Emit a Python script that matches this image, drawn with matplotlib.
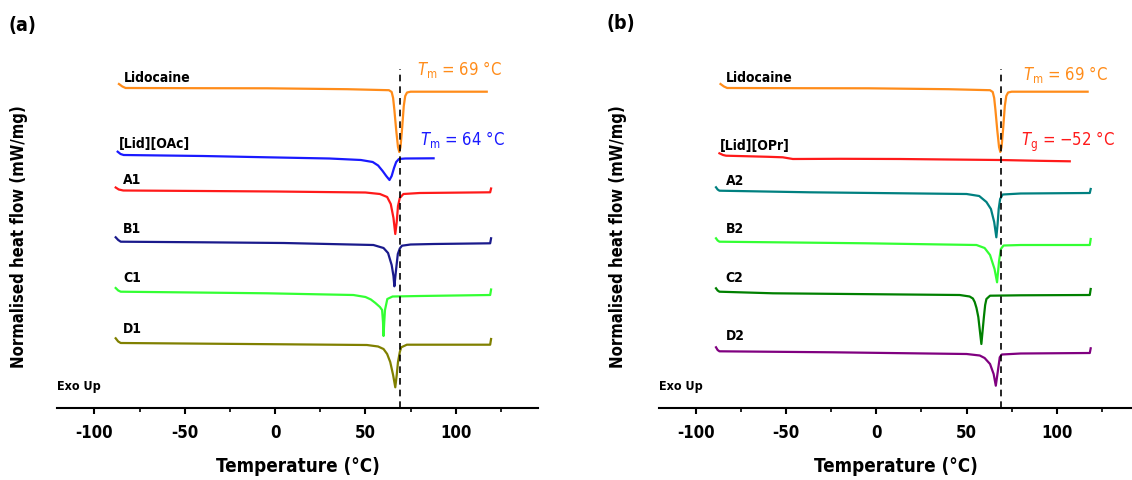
import matplotlib
matplotlib.use('Agg')
import matplotlib.pyplot as plt

# 글꼴 설정 (좁은 굵은 글꼴이 있으면 사용)
plt.rcParams['font.family'] = ['DejaVu Sans Condensed', 'Liberation Sans Narrow', 'DejaVu Sans']
plt.rcParams['font.stretch'] = 'condensed'
plt.rcParams['font.weight'] = 'bold'
plt.rcParams['axes.labelweight'] = 'bold'
plt.rcParams['axes.unicode_minus'] = False
plt.rcParams['mathtext.fontset'] = 'custom'
plt.rcParams['mathtext.rm'] = 'DejaVu Sans:style=normal:weight=normal:stretch=condensed'
plt.rcParams['mathtext.it'] = 'DejaVu Sans:style=italic:weight=normal:stretch=condensed'

# DSC 곡선 (온도 °C, 정규화 열류 + 세로 오프셋)
lido_T = [-86.4, -84.5, -82.7, -40, -4.4, 40, 63, 64.5, 65.3, 66, 67, 68, 68.7, 69.4, 70.3, 71.2, 72, 73, 75, 117.1]
lido_hf = [32.4, 32.15, 32.0, 31.98, 31.97, 31.88, 31.78, 31.6, 31.0, 29.8, 27.8, 26.1, 25.6, 26.1, 28.0, 30.2, 31.2, 31.55, 31.63, 31.63]

oac_T = [-87.1, -85.5, -83.8, -40, -4.4, 30, 47.5, 54, 57, 59.5, 61.5, 63.3, 64.5, 65.8, 67, 68.5, 72, 87.7]
oac_hf = [25.63, 25.4, 25.3, 25.2, 25.07, 24.95, 24.8, 24.6, 24.25, 23.7, 23.2, 22.8, 23.2, 24.0, 24.6, 24.9, 24.95, 24.97]

a1_T = [-88.2, -86.5, -84, -40, 0, 50, 58, 62, 64, 65.5, 66.5, 67.3, 68, 69, 71, 80, 119, 119.5]
a1_hf = [22.05, 21.85, 21.75, 21.7, 21.65, 21.55, 21.4, 21.1, 20.4, 19.0, 17.4, 18.6, 20.2, 21.0, 21.4, 21.5, 21.57, 21.95]

b1_T = [-88.2, -86.8, -85.4, -40, 4.8, 54.4, 60, 62.5, 64.5, 65.5, 66, 66.8, 67.9, 69, 70.2, 75, 87.7, 119, 119.5]
b1_hf = [17.07, 16.8, 16.63, 16.57, 16.5, 16.3, 16.0, 15.5, 14.3, 13.2, 12.17, 13.6, 15.4, 15.95, 16.23, 16.35, 16.4, 16.47, 16.97]

c1_T = [-88.2, -86.8, -85.4, -4.4, 43.3, 50, 53, 55.5, 58, 59.2, 59.7, 60, 60.4, 60.8, 62.1, 65, 80, 119, 119.5]
c1_hf = [12.0, 11.75, 11.63, 11.47, 11.3, 11.1, 10.85, 10.5, 10.1, 9.8, 8.6, 7.2, 8.6, 9.8, 10.9, 11.15, 11.2, 11.3, 11.85]

d1_T = [-88.2, -86.8, -85.4, 4.8, 50.8, 57, 60, 62, 63.7, 65.3, 66.5, 67.3, 68, 69, 69.8, 72.9, 119, 119.5]
d1_hf = [6.97, 6.65, 6.5, 6.37, 6.3, 6.15, 5.9, 5.4, 4.6, 3.3, 2.07, 3.3, 4.6, 5.6, 6.07, 6.33, 6.33, 6.9]

opr_T = [-87, -85, -83.3, -60, -51.9, -46.3, -20, 12.9, 40, 68.4, 90, 107.2]
opr_hf = [25.47, 25.3, 25.23, 25.12, 25.07, 24.9, 24.92, 24.9, 24.85, 24.8, 24.72, 24.67]

a2_T = [-88.9, -88, -87, -37, 50, 57, 61, 63.5, 65.3, 66.5, 67.2, 67.8, 68.6, 70, 80, 118.3, 118.8]
a2_hf = [22.07, 21.85, 21.73, 21.57, 21.4, 21.2, 20.6, 19.9, 18.6, 17.07, 18.4, 19.9, 20.9, 21.35, 21.45, 21.5, 21.9]

b2_T = [-88.9, -88, -87, -5.5, 55.5, 60, 63, 65.5, 66.9, 68, 69, 70.5, 80, 118.3, 118.8]
b2_hf = [16.97, 16.75, 16.63, 16.47, 16.3, 16.0, 15.3, 13.9, 12.57, 14.7, 15.9, 16.25, 16.3, 16.3, 16.9]

c2_T = [-88.9, -88, -87, -57.3, 46.2, 51.7, 53.5, 54.5, 55.5, 56.5, 58.2, 59.6, 60.3, 61, 63, 80, 118.3, 118.8]
c2_hf = [11.97, 11.75, 11.63, 11.47, 11.3, 11.15, 10.95, 10.6, 10.0, 9.1, 6.4, 9.1, 10.3, 10.9, 11.23, 11.27, 11.3, 11.9]

d2_T = [-88.9, -88, -87, -24, 50, 57.3, 60, 63, 65, 66.2, 67.5, 68.4, 69.5, 80, 118.3, 118.8]
d2_hf = [6.07, 5.8, 5.67, 5.57, 5.4, 5.25, 5.0, 4.4, 3.4, 2.23, 3.9, 5.07, 5.35, 5.45, 5.5, 5.97]

tm_lido = 69

fig = plt.figure(figsize=(11.32, 4.81), dpi=100)
ax1 = fig.add_axes([57.3 / 1132, 72 / 481, 480.4 / 1132, 344 / 481])
ax2 = fig.add_axes([659 / 1132, 72 / 481, 473 / 1132, 344 / 481])

# 패널 (a)
ax1.plot(lido_T, lido_hf, color='#ff8c1a', lw=1.6)
ax1.plot(oac_T, oac_hf, color='#1a1aff', lw=1.6)
ax1.plot(a1_T, a1_hf, color='#ff1a1a', lw=1.6)
ax1.plot(b1_T, b1_hf, color='#1a1a8c', lw=1.6)
ax1.plot(c1_T, c1_hf, color='#33ff33', lw=1.6)
ax1.plot(d1_T, d1_hf, color='#808000', lw=1.6)

ax1.text(-83.6, 33.1, 'Lidocaine', fontsize=10, ha='left', va='center')
ax1.text(-86.4, 26.5, '[Lid][OAc]', fontsize=10, ha='left', va='center')
ax1.text(-84, 22.9, 'A1', fontsize=10, ha='left', va='center')
ax1.text(-84, 18.0, 'B1', fontsize=10, ha='left', va='center')
ax1.text(-84, 13.1, 'C1', fontsize=10, ha='left', va='center')
ax1.text(-84, 8.0, 'D1', fontsize=10, ha='left', va='center')
ax1.text(78.5, 33.9, r'$T_\mathrm{m}$ = 69 °C', color='#ff8c1a', fontsize=12,
         fontweight='normal', ha='left', va='center')
ax1.text(80.3, 26.9, r'$T_\mathrm{m}$ = 64 °C', color='#1a1aff', fontsize=12,
         fontweight='normal', ha='left', va='center')

# 패널 (b)
ax2.plot(lido_T, lido_hf, color='#ff8c1a', lw=1.6)
ax2.plot(opr_T, opr_hf, color='#ff1a1a', lw=1.6)
ax2.plot(a2_T, a2_hf, color='#008080', lw=1.6)
ax2.plot(b2_T, b2_hf, color='#33ff33', lw=1.6)
ax2.plot(c2_T, c2_hf, color='#008000', lw=1.6)
ax2.plot(d2_T, d2_hf, color='#800080', lw=1.6)

ax2.text(-83.2, 33.07, 'Lidocaine', fontsize=10, ha='left', va='center')
ax2.text(-86.5, 26.3, '[Lid][OPr]', fontsize=10, ha='left', va='center')
ax2.text(-83.6, 22.8, 'A2', fontsize=10, ha='left', va='center')
ax2.text(-83.6, 18.0, 'B2', fontsize=10, ha='left', va='center')
ax2.text(-83.6, 13.1, 'C2', fontsize=10, ha='left', va='center')
ax2.text(-83.6, 7.3, 'D2', fontsize=10, ha='left', va='center')
ax2.text(81.3, 33.4, r'$T_\mathrm{m}$ = 69 °C', color='#ff8c1a', fontsize=12,
         fontweight='normal', ha='left', va='center')
ax2.text(80.4, 26.7, r'$T_\mathrm{g}$ = −52 °C', color='#ff1a1a', fontsize=12,
         fontweight='normal', ha='left', va='center')

# 공통 축 스타일
for ax, xmax, lab_x in [(ax1, 145.3, -0.062), (ax2, 141.7, -0.068)]:
    ax.axvline(tm_lido, ymin=0, ymax=0.985, color='k', ls='--', lw=1.2, dashes=(4, 3))
    ax.text(-120.5, 2.2, 'Exo Up', fontsize=9, ha='left', va='center')
    ax.set_xlim(-120.5, xmax)
    ax.set_ylim(0, 34.4)
    ax.set_xticks([-100, -50, 0, 50, 100])
    ax.set_xticks([-75, -25, 25, 75, 125], minor=True)
    ax.set_yticks([])
    for s in ['top', 'right', 'left']:
        ax.spines[s].set_visible(False)
    ax.spines['bottom'].set_linewidth(1.5)
    ax.tick_params(axis='x', which='major', direction='out', length=4, width=1.5,
                   labelsize=12, pad=7)
    ax.tick_params(axis='x', which='minor', direction='out', length=3, width=1.2)
    ax.set_xlabel('Temperature (°C)', fontsize=13.5)
    ax.xaxis.set_label_coords(0.5, -0.14)
    ax.set_ylabel('Normalised heat flow (mW/mg)', fontsize=12)
    ax.yaxis.set_label_coords(lab_x, 0.5)
    ax.patch.set_visible(False)

fig.text(8 / 1132, 1 - 26 / 481, '(a)', fontsize=14, ha='left', va='center')
fig.text(607 / 1132, 1 - 24 / 481, '(b)', fontsize=14, ha='left', va='center')

fig.savefig('out.png', dpi=100)
